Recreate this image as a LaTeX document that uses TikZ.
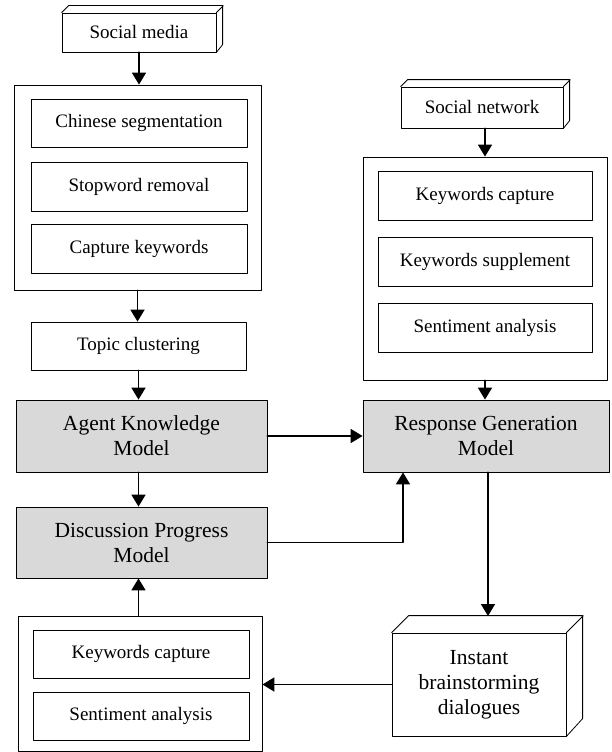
\documentclass[tikz,border=0pt]{standalone}
\usepackage{fontspec}
\setmainfont{Liberation Serif}
\usetikzlibrary{arrows.meta}

\definecolor{modelgray}{HTML}{D9D9D9}
\tikzset{
  box/.style={draw,line width=0.8pt,inner sep=0pt,align=center,font=\fontsize{19}{22}\selectfont},
  model/.style={box,fill=modelgray,font=\fontsize{21.5}{25}\selectfont},
  link/.style={->,line width=1.8pt},
}

\begin{document}
\begin{tikzpicture}[x=1pt,y=-1pt,line cap=round,line join=round,>={Triangle[length=12pt,width=14pt]}]
				\useasboundingbox (0,0) rectangle (612,752);
				
				% left column
				\node[box,minimum width=154pt,minimum height=39pt] (smedia) at (139,32.5) {Social media};
				\draw[line width=0.8pt] (smedia.north west) -- ++(7,-7) -- ++(154,0) -- ++(0,39) -- (smedia.south east)
					(smedia.north east) -- ++(7,-7);
				
				\node[box,minimum width=247pt,minimum height=205pt] (prep) at (137.5,187.5) {};
				\node[box,minimum width=216pt,minimum height=48pt] (seg) at (139,123) {Chinese segmentation};
				\node[box,minimum width=216pt,minimum height=49pt] (stop) at (139,186.5) {Stopword removal};
				\node[box,minimum width=216pt,minimum height=49pt] (capt) at (139,248.5) {Capture keywords};
				
				\node[box,minimum width=215pt,minimum height=48pt] (topic) at (138.5,346) {Topic clustering};
				
				\node[model,minimum width=251pt,minimum height=72pt] (akm) at (141.5,436) {Agent Knowledge\\Model};
				\node[model,minimum width=251pt,minimum height=71pt] (dpm) at (141.5,542.5) {Discussion Progress\\Model};
				
				\node[box,minimum width=244pt,minimum height=135pt] (fb) at (140,683.5) {};
				\node[box,minimum width=216pt,minimum height=48pt] (fbkey) at (141,654) {Keywords capture};
				\node[box,minimum width=216pt,minimum height=48pt] (fbsent) at (141,716) {Sentiment analysis};
				
				% right column
				\node[box,minimum width=162pt,minimum height=41pt] (snet) at (482,107.5) {Social network};
				\draw[line width=0.8pt] (snet.north west) -- ++(7,-7) -- ++(162,0) -- ++(0,41) -- (snet.south east)
					(snet.north east) -- ++(7,-7);
				
				\node[box,minimum width=244pt,minimum height=223pt] (senti) at (485,268.5) {};
				\node[box,minimum width=214pt,minimum height=49pt] (skey) at (485,195.5) {Keywords capture};
				\node[box,minimum width=214pt,minimum height=49pt] (ssup) at (485,261.5) {Keywords supplement};
				\node[box,minimum width=214pt,minimum height=49pt] (ssent) at (485,327.5) {Sentiment analysis};
				
				\node[model,minimum width=246pt,minimum height=72pt] (rgm) at (486,436) {Response Generation\\Model};
				
				\node[box,minimum width=174pt,minimum height=103pt,font=\fontsize{21.5}{25}\selectfont] (inst) at (479,684.5) {Instant\\brainstorming\\dialogues};
				\draw[line width=0.8pt] (inst.north west) -- ++(17,-17) -- ++(174,0) -- ++(0,103) -- (inst.south east)
					(inst.north east) -- ++(17,-17);
				\coordinate (itop) at (488,616);
				
				% arrows
				\draw[link] (smedia.south) -- (smedia.south |- prep.north);
				\draw[link] (prep.south) -- (prep.south |- topic.north);
				\draw[link] (topic.south) -- (topic.south |- akm.north);
				\draw[link] (akm.south -| topic.south) -- (topic.south |- dpm.north);
				\draw[link] (fb.north -| topic.south) -- (topic.south |- dpm.south);
				\draw[link] (snet.south -| senti.north) -- (senti.north);
				\draw[link] (senti.south) -- (senti.south |- rgm.north);
				\draw[link] (akm.east) -- (rgm.west);
				\draw[link] (dpm.east) -| (403,0 |- rgm.south);
				\draw[link] (rgm.south -| itop) -- (itop);
				\draw[link] (inst.west) -- (inst.west -| fb.east);
			\end{tikzpicture}
\end{document}
